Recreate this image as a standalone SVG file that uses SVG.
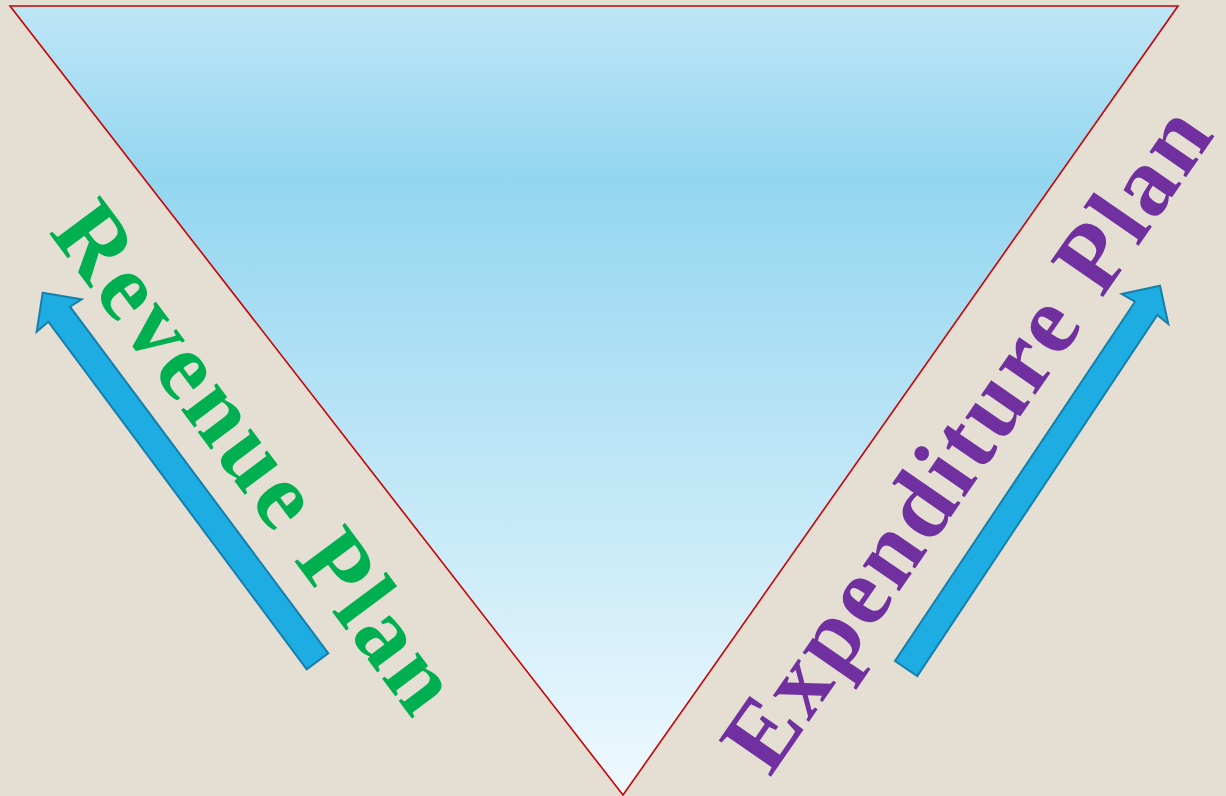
<svg xmlns="http://www.w3.org/2000/svg" width="1226" height="796" viewBox="0 0 1226 796">
<defs>
<linearGradient id="sky" x1="0" y1="6" x2="0" y2="795" gradientUnits="userSpaceOnUse">
<stop offset="0" stop-color="#BDE6F6"/>
<stop offset="0.22" stop-color="#94D6F0"/>
<stop offset="1" stop-color="#EFF9FE"/>
</linearGradient>
<style>
.arrow{fill:#1EADE3;stroke:#167FAA;stroke-width:2;stroke-linejoin:miter}
.lbl{font-family:"Liberation Serif","Times New Roman",serif;font-weight:bold;font-size:97px}
</style>
</defs>
<rect width="1226" height="796" fill="#E5DED3"/>
<g id="triangle">
<polygon points="10,6 1178,6 623,795" fill="url(#sky)" stroke="#CC0000" stroke-width="1.6"/>
</g>
<g id="connectors">
<polygon class="arrow" points="42.7,292.7 81.7,299.3 70,306.7 328.3,653.3 306.7,669.3 48.3,321.7 36.7,331.7"/>
<polygon class="arrow" points="1160,285.7 1168.3,324 1157.3,315 917.3,676 895,661 1135,301.7 1121.7,294"/>
</g>
<g id="revenue">
<text class="lbl" fill="#00B050" transform="translate(48,232) rotate(53.2)" textLength="609" lengthAdjust="spacing">Revenue Plan</text>
</g>
<g id="expenditure">
<text class="lbl" fill="#7030A0" transform="translate(770,778) rotate(-55.3)" textLength="782" lengthAdjust="spacing">Expenditure Plan</text>
</g>
</svg>
